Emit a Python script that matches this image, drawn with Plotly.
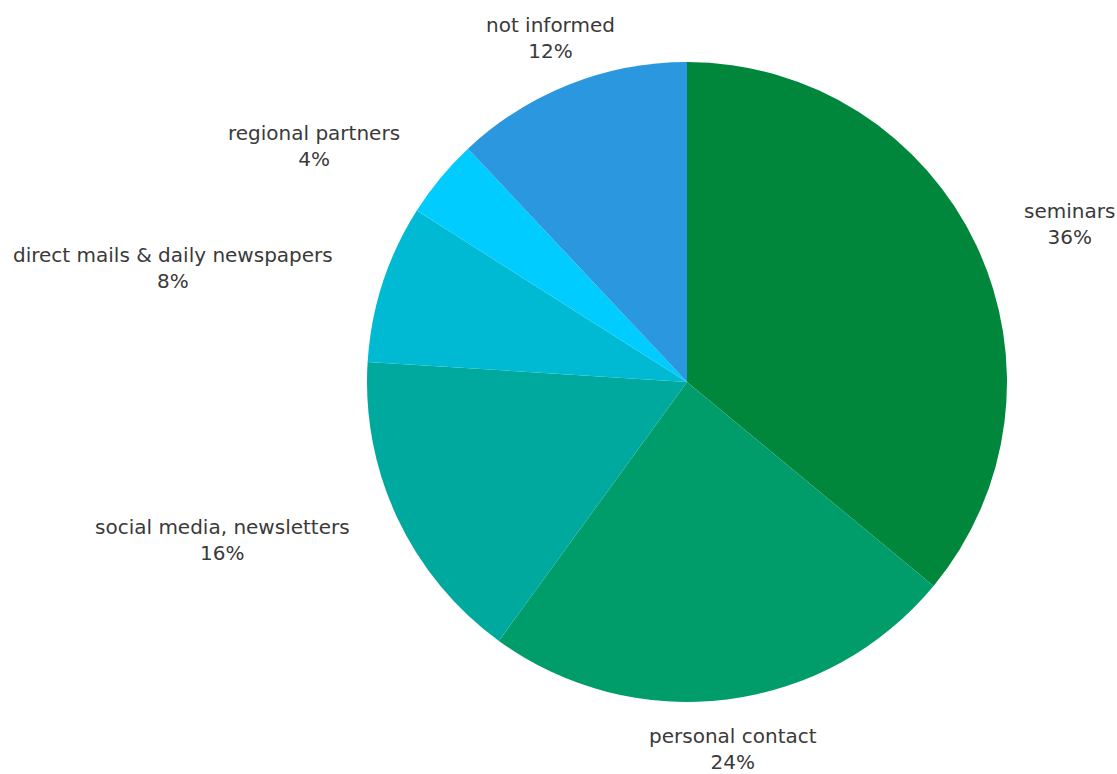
import math
import plotly.graph_objects as go

# Where participants heard about the programme (share of responses, %)
labels = ["seminars", "personal contact", "social media, newsletters",
          "direct mails & daily newspapers", "regional partners", "not informed"]
values = [36, 24, 16, 8, 4, 12]
colors = ["#00873c", "#009c69", "#00a99d", "#00bad3", "#00ccff", "#2a97df"]

W, H = 1117, 774
CX, CY, R = 687, 382, 320      # pie centre and radius in pixels
LABEL_R = R + 50               # radius at which label blocks sit
FONT = dict(family="DejaVu Sans", size=20, color="#3a3a3a")

fig = go.Figure(go.Pie(
    labels=labels,
    values=values,
    sort=False,
    direction="clockwise",
    rotation=0,
    marker=dict(colors=colors, line=dict(width=0)),
    textinfo="none",
    hoverinfo="label+percent",
    showlegend=False,
    domain=dict(x=[(CX - R) / W, (CX + R) / W],
                y=[1 - (CY + R) / H, 1 - (CY - R) / H]),
))

# Outside labels: name over percentage, placed along each slice's mid-angle
total = sum(values)
annotations = []
cum = 0.0
for name, v in zip(labels, values):
    mid = (cum + v / 2) / total * 2 * math.pi
    cum += v
    sx, sy = math.sin(mid), -math.cos(mid)
    px = CX + LABEL_R * sx
    py = CY + LABEL_R * sy
    if sx > 0.5:
        xa = "left"
    elif sx < -0.5:
        xa = "right"
    else:
        xa = "center"
    pct = f"{round(v / total * 100)}%"
    annotations.append(dict(
        x=px / W, y=1 - py / H, xref="paper", yref="paper",
        text=f"{name}<br>{pct}", showarrow=False,
        xanchor=xa, yanchor="middle", align="center", font=FONT,
    ))

fig.update_layout(
    width=W, height=H,
    margin=dict(l=0, r=0, t=0, b=0),
    paper_bgcolor="white",
    plot_bgcolor="white",
    annotations=annotations,
)

fig.write_html("out.html")
